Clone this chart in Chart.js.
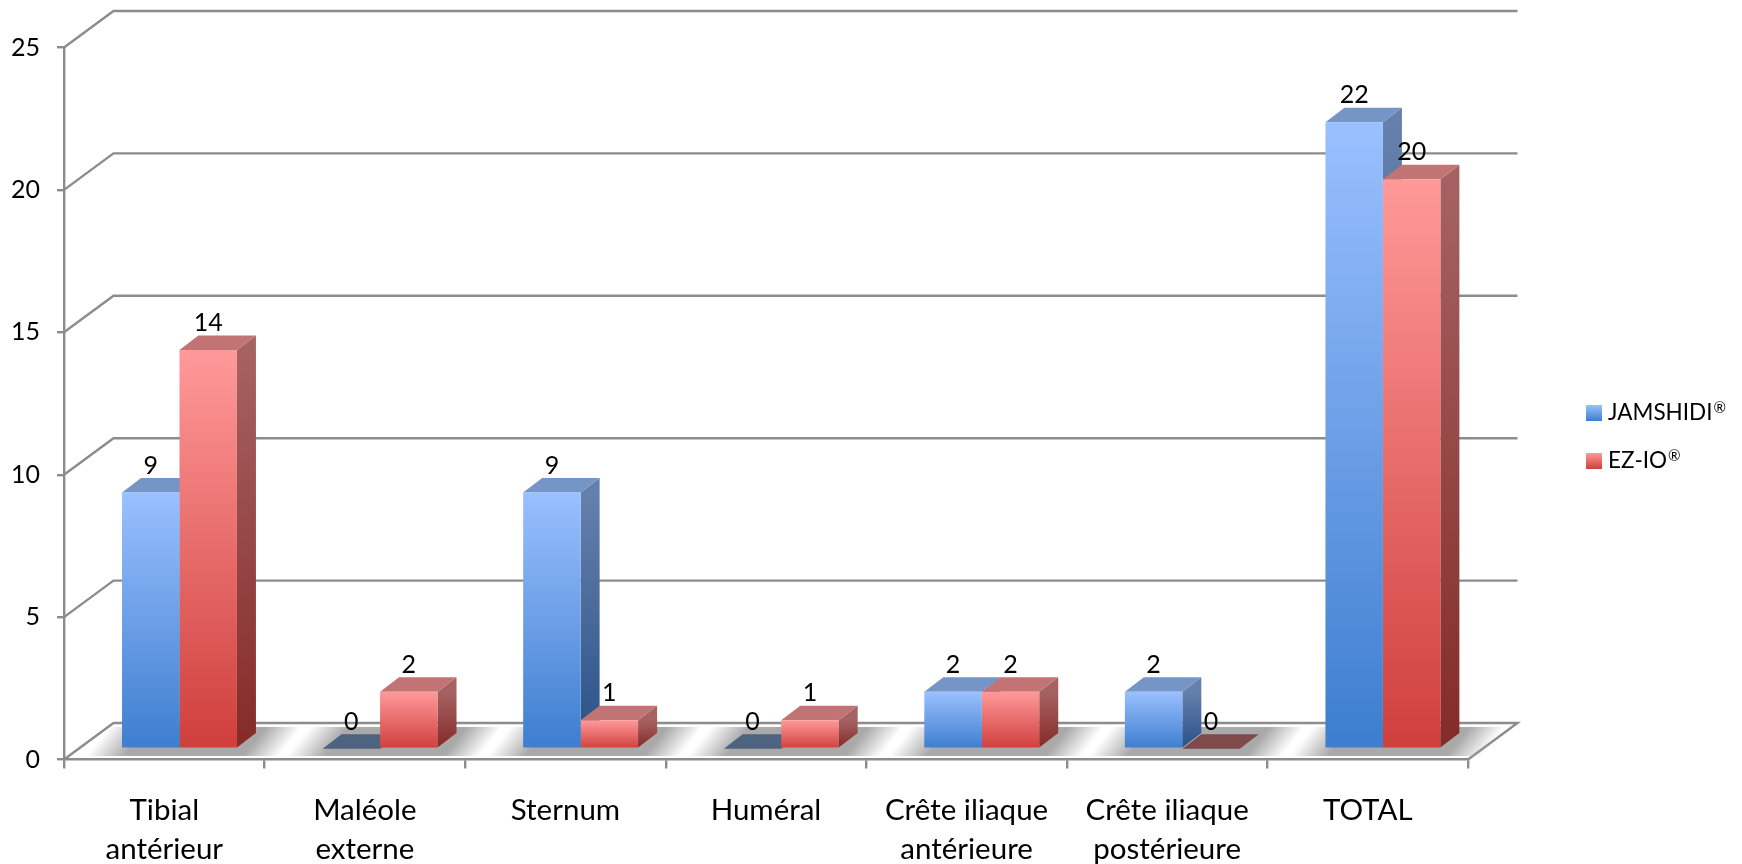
<!DOCTYPE html>
<html lang="fr">
<head>
<meta charset="utf-8">
<title>Sites de pose</title>
<script src="https://cdn.jsdelivr.net/npm/chart.js@4"></script>
<style>
    html, body { margin: 0; padding: 0; background: #fff; }
    canvas { display: block; }
</style>
</head>
<body>
<canvas id="siteChart" width="1742" height="864"></canvas>
<script>
const categories = [
    ["Tibial", "antérieur"],
    ["Maléole", "externe"],
    "Sternum",
    "Huméral",
    ["Crête iliaque", "antérieure"],
    ["Crête iliaque", "postérieure"],
    "TOTAL",
];
const jamshidiValues = [9, 0, 9, 0, 2, 2, 22];
const ezioValues = [14, 2, 1, 1, 2, 0, 20];
const seriesNames = ["JAMSHIDI®", "EZ-IO®"];
const yTicks = [0, 5, 10, 15, 20, 25];

const FONT = "Lato, Carlito, sans-serif";
const GRID = "#8c8c8c";
const GRID_WIDTH = 2.4;

// colours of the faces of a bar, one set per series
const blue = { light: "#9ac0ff", dark: "#3d7ecf", top: "#7595c6", flat: "#4d6380", sideTop: "#6580ac", sideBottom: "#2a5187" };
const red = { light: "#ff9999", dark: "#cf3f3c", top: "#c27373", flat: "#7e4a4c", sideTop: "#a66262", sideBottom: "#842b28" };
const faces = [blue, red];

// the bars stand a little behind the front edge of the floor
const barShift = { x: 15.2, y: -10.7 };
const barDepth = { x: 19, y: -14.5 };
const wallDepth = { x: 49.5, y: -36.5 };

function frontFill(colors) {
    return function (context) {
        if (context.type !== "data") return colors.light;
        const y = context.chart.scales.y;
        const y0 = y.getPixelForValue(context.raw);
        const y1 = y.getPixelForValue(0);
        // scales are not laid out yet on the first resolve
        if (!isFinite(y0) || !isFinite(y1)) return colors.light;
        const g = context.chart.ctx.createLinearGradient(0, y0, 0, y1);
        g.addColorStop(0, colors.light);
        g.addColorStop(1, colors.dark);
        return g;
    };
}

function polygon(ctx, points, fill) {
    ctx.beginPath();
    points.forEach(function (p, i) {
        if (i === 0) ctx.moveTo(p[0], p[1]);
        else ctx.lineTo(p[0], p[1]);
    });
    ctx.closePath();
    ctx.fillStyle = fill;
    ctx.fill();
}

// back wall, left wall and floor
const wallsPlugin = {
    id: "walls",
    beforeDatasetsDraw(chart) {
        const ctx = chart.ctx;
        const { left, right } = chart.chartArea;
        const y = chart.scales.y;
        ctx.save();
        ctx.strokeStyle = GRID;
        ctx.lineWidth = GRID_WIDTH;
        yTicks.forEach(function (tick) {
            const py = y.getPixelForValue(tick);
            ctx.beginPath();
            ctx.moveTo(left, py);
            ctx.lineTo(left + wallDepth.x, py + wallDepth.y);
            ctx.lineTo(right + wallDepth.x, py + wallDepth.y);
            if (tick === 0) ctx.lineTo(right, py);
            ctx.stroke();
        });
        ctx.restore();

        // shadows on the floor, fading across the slanted ends
        const first = chart.getDatasetMeta(0).data;
        const second = chart.getDatasetMeta(1).data;
        const floorFront = y.getPixelForValue(0) - 3.5;
        const floorBack = y.getPixelForValue(0) - 32.5;
        const nx = 0.78, ny = 0.625;
        categories.forEach(function (c, i) {
            const x0 = first[i].x - first[i].width / 2 + barShift.x;
            const x1 = second[i].x + second[i].width / 2 + barShift.x;
            const run = (x1 - x0 + 78) * nx;
            const g = ctx.createLinearGradient(x0 - 36, floorFront, x0 - 36 + run * nx, floorFront + run * ny);
            g.addColorStop(0, "rgba(169,169,169,0)");
            g.addColorStop(30 / run, "rgba(169,169,169,1)");
            g.addColorStop(1 - 28 / run, "rgba(169,169,169,1)");
            g.addColorStop(1, "rgba(169,169,169,0)");
            polygon(ctx, [
                [x0 - 36, floorFront],
                [x1 + 42, floorFront],
                [x1 + 62, floorBack],
                [x0 - 13, floorBack],
            ], g);
        });
    },
};

// side and top faces of the bars, under the fronts that Chart.js fills
const barFacesPlugin = {
    id: "barFaces",
    beforeDatasetsDraw(chart) {
        const ctx = chart.ctx;
        ctx.save();
        ctx.translate(barShift.x, barShift.y);
        faces.forEach(function (colors, d) {
            chart.getDatasetMeta(d).data.forEach(function (bar) {
                const xl = bar.x - bar.width / 2;
                const xr = bar.x + bar.width / 2;
                const flat = bar.y === bar.base;
                if (!flat) {
                    const g = ctx.createLinearGradient(0, bar.y, 0, bar.base);
                    g.addColorStop(0, colors.sideTop);
                    g.addColorStop(1, colors.sideBottom);
                    polygon(ctx, [
                        [xr, bar.y],
                        [xr + barDepth.x, bar.y + barDepth.y],
                        [xr + barDepth.x, bar.base + barDepth.y],
                        [xr, bar.base],
                    ], g);
                }
                polygon(ctx, [
                    [xl, bar.y],
                    [xl + barDepth.x, bar.y + barDepth.y],
                    [xr + barDepth.x, bar.y + barDepth.y],
                    [xr, bar.y],
                ], flat ? colors.flat : colors.top);
            });
        });
        ctx.restore();
        // left on the context so the fronts land on the same plane
        ctx.save();
        ctx.translate(barShift.x, barShift.y);
    },
    afterDatasetsDraw(chart) {
        chart.ctx.restore();
    },
};

// value above each bar
const valueLabelsPlugin = {
    id: "valueLabels",
    afterDatasetsDraw(chart) {
        const ctx = chart.ctx;
        ctx.save();
        ctx.font = "25px " + FONT;
        ctx.fillStyle = "#000";
        ctx.textAlign = "center";
        ctx.textBaseline = "middle";
        chart.data.datasets.forEach(function (dataset, d) {
            chart.getDatasetMeta(d).data.forEach(function (bar, i) {
                ctx.fillText(dataset.data[i], bar.x + barShift.x, bar.y + barShift.y - 27);
            });
        });
        ctx.restore();
    },
};

const legendPlugin = {
    id: "sideLegend",
    afterDraw(chart) {
        const ctx = chart.ctx;
        ctx.save();
        ctx.textBaseline = "middle";
        chart.data.datasets.forEach(function (dataset, d) {
            const top = 405 + d * 48;
            const g = ctx.createLinearGradient(0, top, 0, top + 16);
            g.addColorStop(0, faces[d].light);
            g.addColorStop(1, faces[d].dark);
            ctx.fillStyle = g;
            ctx.fillRect(1586, top, 16, 16);
            ctx.fillStyle = "#000";
            // the mark sits raised after the name
            const name = dataset.label.slice(0, -1);
            ctx.font = "22.5px " + FONT;
            ctx.fillText(name, 1608, top + 8);
            const w = ctx.measureText(name).width;
            ctx.font = "15px " + FONT;
            ctx.fillText(dataset.label.slice(-1), 1609 + w, top + 3);
        });
        ctx.restore();
    },
};

new Chart(document.getElementById("siteChart"), {
    type: "bar",
    data: {
        labels: categories,
        datasets: [
            { label: seriesNames[0], data: jamshidiValues, backgroundColor: frontFill(blue) },
            { label: seriesNames[1], data: ezioValues, backgroundColor: frontFill(red) },
        ],
    },
    options: {
        responsive: false,
        animation: false,
        categoryPercentage: 0.573,
        barPercentage: 1,
        layout: { padding: { top: 47.5, right: 274 } },
        plugins: { legend: { display: false }, tooltip: { enabled: false } },
        scales: {
            x: {
                afterFit(scale) { scale.height = 104.5; },
                border: { color: GRID, width: GRID_WIDTH },
                grid: { drawOnChartArea: false, color: GRID, lineWidth: GRID_WIDTH, tickLength: 9 },
                ticks: {
                    maxRotation: 0,
                    autoSkip: false,
                    padding: 22,
                    color: "#000",
                    font: { family: FONT, size: 29.5, lineHeight: 1.33 },
                },
            },
            y: {
                min: 0,
                max: 25,
                afterFit(scale) { scale.width = 64; },
                border: { color: GRID, width: GRID_WIDTH },
                grid: { drawOnChartArea: false, color: GRID, lineWidth: GRID_WIDTH, tickLength: 7 },
                ticks: {
                    stepSize: 5,
                    padding: 17,
                    color: "#000",
                    font: { family: FONT, size: 25 },
                },
            },
        },
    },
    plugins: [wallsPlugin, barFacesPlugin, valueLabelsPlugin, legendPlugin],
});
</script>
</body>
</html>
